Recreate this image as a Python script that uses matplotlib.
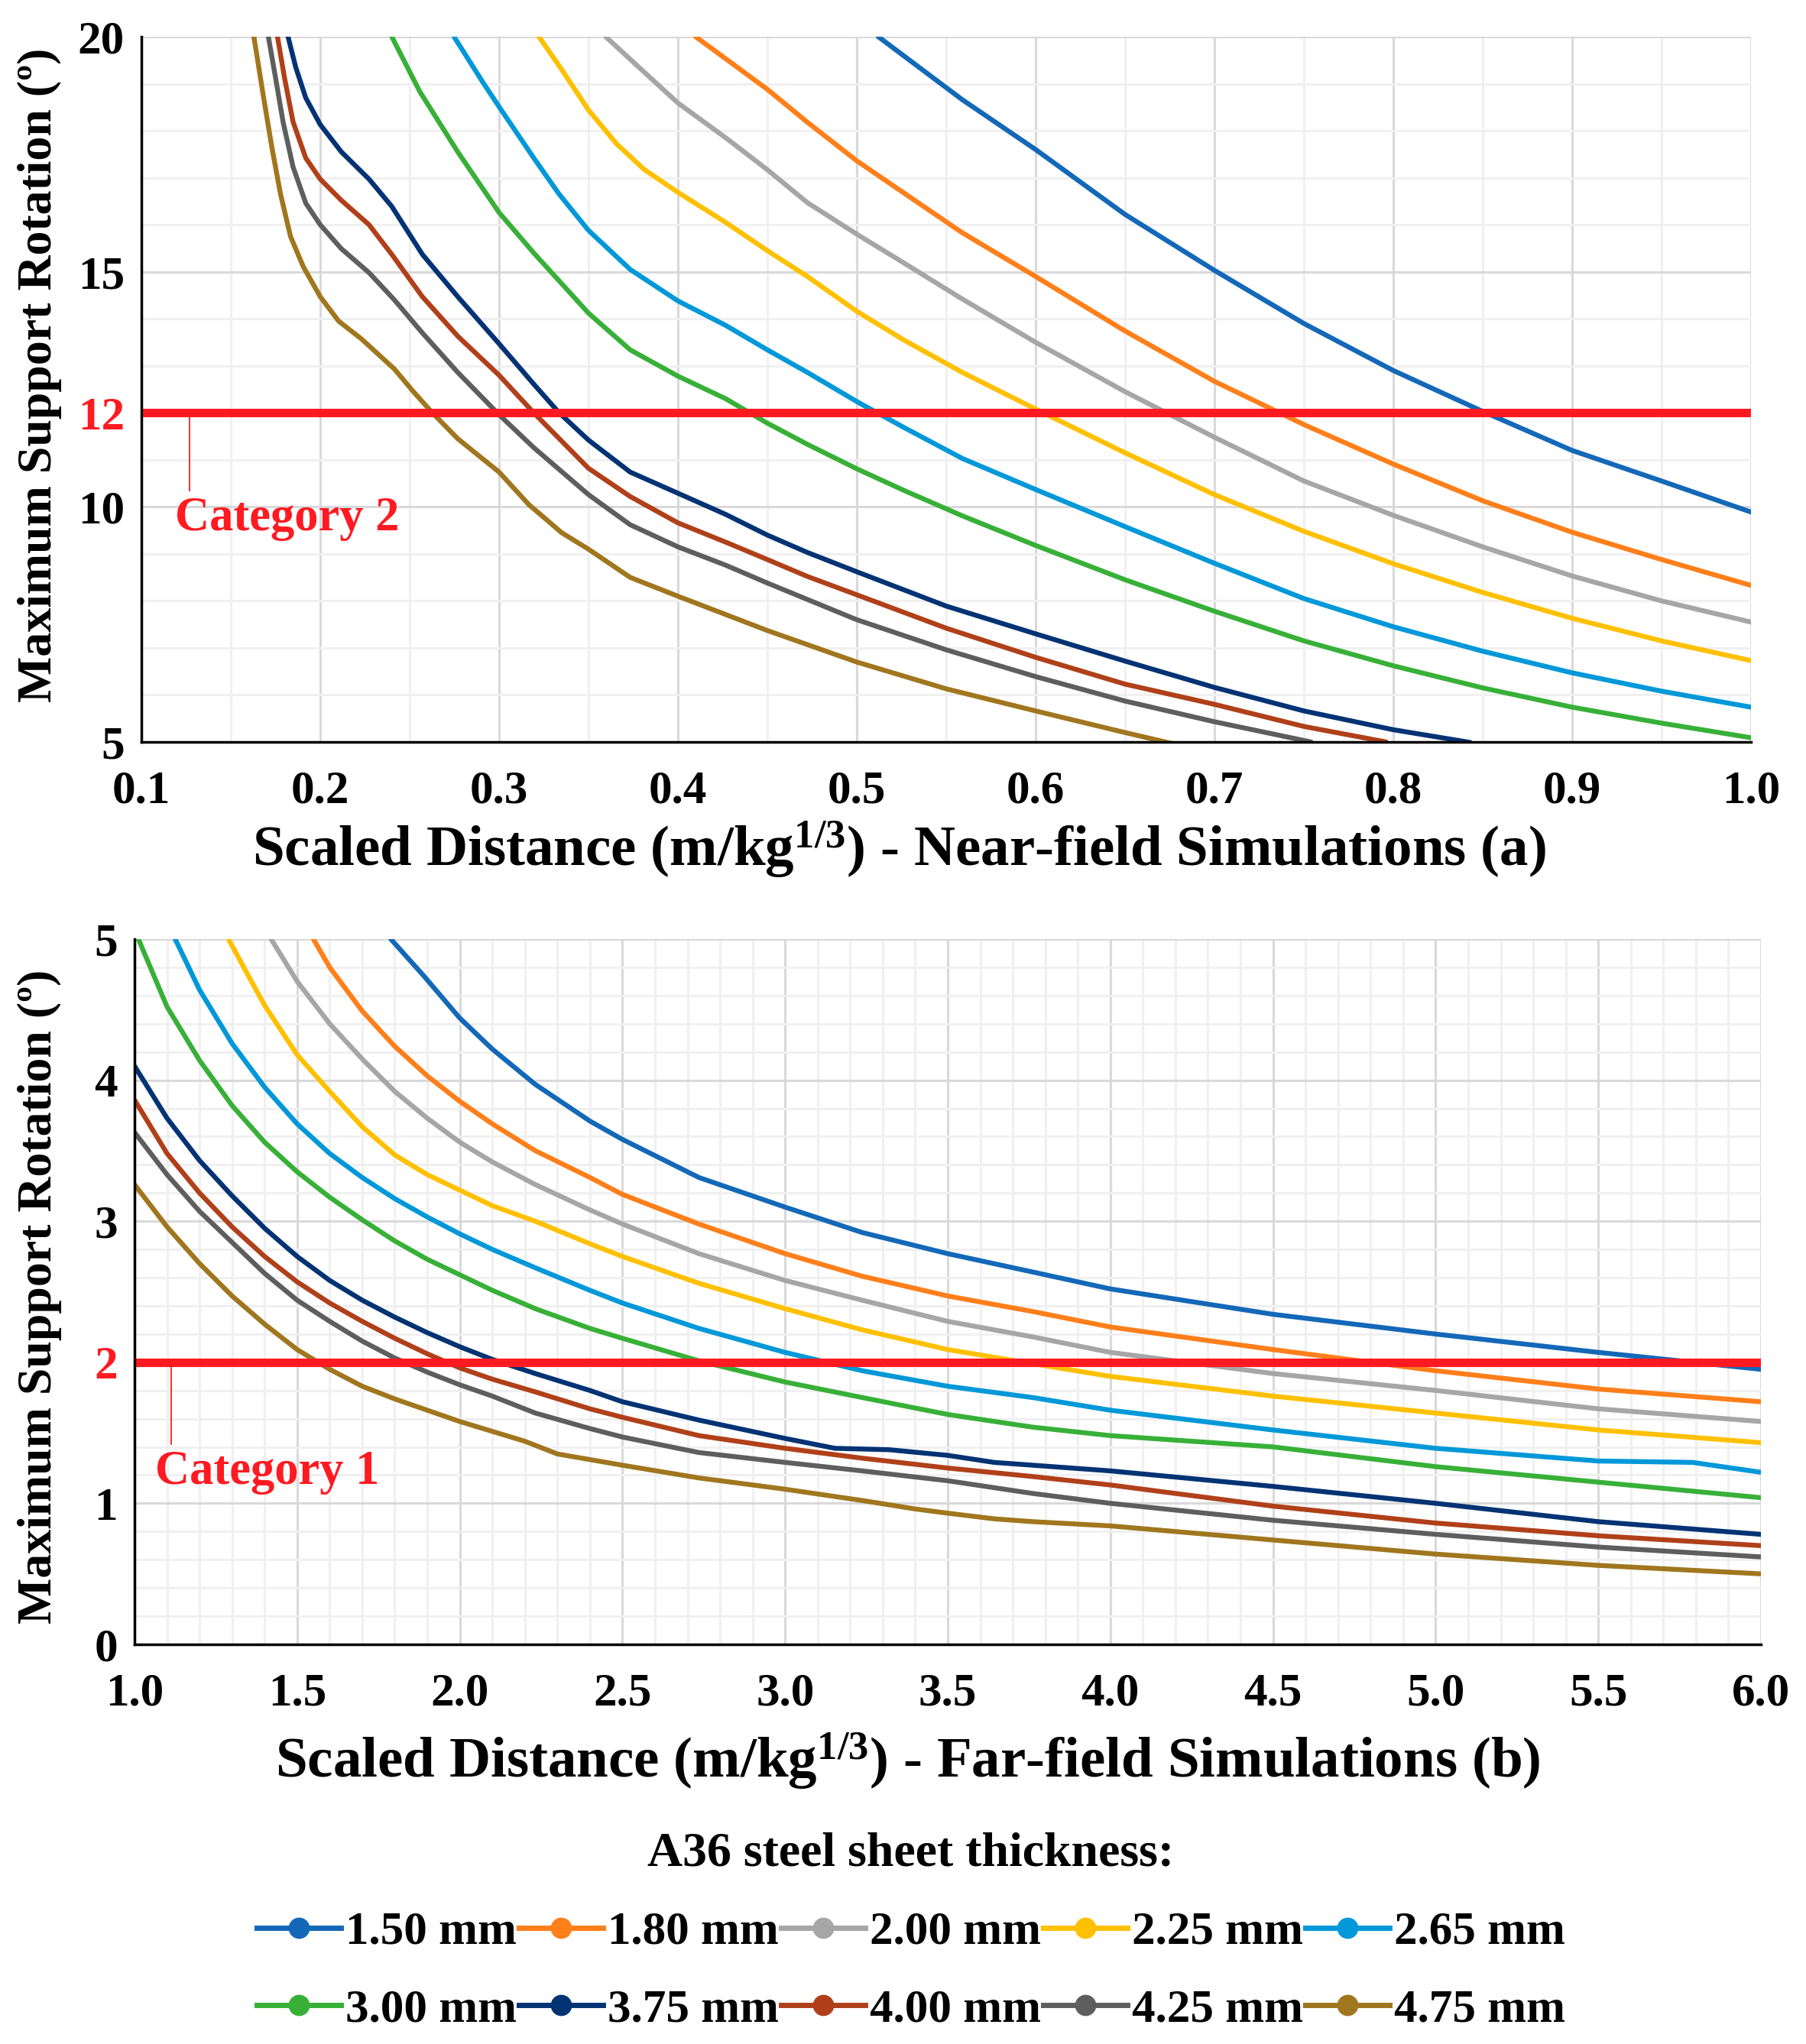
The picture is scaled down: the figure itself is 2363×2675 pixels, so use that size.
# blast response curves: near-field (a) and far-field (b)

import numpy as np
import matplotlib
matplotlib.use('Agg')
from matplotlib import pyplot as plt
from matplotlib.lines import Line2D
from matplotlib.ticker import MultipleLocator, FixedLocator

plt.rcParams['font.family'] = ['Liberation Serif', 'DejaVu Serif']
plt.rcParams['font.weight'] = 'bold'
plt.rcParams['mathtext.fontset'] = 'custom'
plt.rcParams['mathtext.rm'] = 'Liberation Serif:bold'
plt.rcParams['mathtext.it'] = 'Liberation Serif:bold:italic'
plt.rcParams['mathtext.bf'] = 'Liberation Serif:bold'

labels = ['1.50 mm', '1.80 mm', '2.00 mm', '2.25 mm', '2.65 mm',
          '3.00 mm', '3.75 mm', '4.00 mm', '4.25 mm', '4.75 mm']
colors = ['#1468b8', '#ff7f1a', '#a6a6a6', '#ffc000', '#0098d8',
          '#38b038', '#043374', '#b0401a', '#5e5e5e', '#a0761e']

# near-field (a), values
near_x = [
    [0.512, 0.559, 0.60, 0.65, 0.70, 0.75, 0.80, 0.85, 0.90, 0.95, 1.00],
    [0.4099, 0.45, 0.4724, 0.50, 0.5258, 0.559, 0.60, 0.65, 0.70, 0.75, 0.80, 0.85, 0.90, 0.95, 1.0],
    [0.3596, 0.3733, 0.40, 0.4267, 0.45, 0.4724, 0.50, 0.5258, 0.559, 0.60, 0.65, 0.70, 0.75, 0.80, 0.85, 0.90, 0.95, 1.0],
    [0.3223, 0.3352, 0.35, 0.3657, 0.381, 0.40, 0.4267, 0.45, 0.4724, 0.50, 0.5258, 0.559, 0.60, 0.65, 0.70, 0.75, 0.80, 0.85, 0.90, 0.95, 1.0],
    [0.2748, 0.2911, 0.30, 0.3194, 0.3336, 0.35, 0.3733, 0.40, 0.4267, 0.45, 0.4724, 0.50, 0.5258, 0.559, 0.60, 0.65, 0.70, 0.75, 0.80, 0.85, 0.90, 0.95, 1.0],
    [0.24, 0.2557, 0.2769, 0.30, 0.3194, 0.35, 0.3733, 0.40, 0.4267, 0.45, 0.4724, 0.50, 0.5258, 0.559, 0.60, 0.65, 0.70, 0.75, 0.80, 0.85, 0.90, 0.95, 1.0],
    [0.182, 0.1863, 0.1919, 0.20, 0.2118, 0.2273, 0.24, 0.2571, 0.2769, 0.30, 0.3194, 0.3336, 0.35, 0.3733, 0.40, 0.4267, 0.45, 0.4724, 0.50, 0.55, 0.60, 0.65, 0.70, 0.75, 0.80, 0.843],
    [0.1761, 0.1799, 0.1848, 0.1919, 0.20, 0.2118, 0.2273, 0.24, 0.2571, 0.2769, 0.30, 0.3194, 0.35, 0.3733, 0.40, 0.4267, 0.45, 0.4724, 0.50, 0.55, 0.60, 0.65, 0.70, 0.75, 0.796],
    [0.171, 0.1749, 0.1792, 0.1848, 0.1919, 0.20, 0.2118, 0.2273, 0.2415, 0.2571, 0.2769, 0.30, 0.3194, 0.35, 0.3733, 0.40, 0.4267, 0.45, 0.50, 0.55, 0.60, 0.65, 0.70, 0.754],
    [0.1629, 0.1678, 0.1728, 0.1778, 0.1834, 0.1905, 0.20, 0.2103, 0.2231, 0.2415, 0.2514, 0.2627, 0.2769, 0.30, 0.3166, 0.335, 0.35, 0.3733, 0.40, 0.45, 0.50, 0.55, 0.60, 0.65, 0.677],
]
near_y = [
    [20.0, 18.66, 17.6, 16.22, 15.03, 13.9, 12.9, 12.03, 11.2, 10.55, 9.89],
    [20.0, 18.88, 18.18, 17.36, 16.69, 15.83, 14.9, 13.74, 12.67, 11.75, 10.91, 10.13, 9.46, 8.88, 8.33],
    [20.0, 19.52, 18.59, 17.85, 17.17, 16.47, 15.80, 15.20, 14.42, 13.50, 12.45, 11.48, 10.55, 9.82, 9.15, 8.53, 8.0, 7.55],
    [20.0, 19.29, 18.44, 17.72, 17.18, 16.69, 16.05, 15.45, 14.90, 14.16, 13.56, 12.86, 12.08, 11.15, 10.26, 9.48, 8.79, 8.18, 7.63, 7.15, 6.73],
    [20.0, 19.02, 18.51, 17.42, 16.65, 15.88, 15.05, 14.38, 13.86, 13.34, 12.86, 12.24, 11.70, 11.03, 10.37, 9.58, 8.80, 8.05, 7.45, 6.93, 6.47, 6.08, 5.74],
    [20.0, 18.83, 17.55, 16.26, 15.4, 14.12, 13.34, 12.78, 12.30, 11.78, 11.33, 10.81, 10.36, 9.81, 9.18, 8.45, 7.78, 7.15, 6.62, 6.15, 5.74, 5.40, 5.09],
    [20.0, 19.35, 18.70, 18.13, 17.55, 16.97, 16.39, 15.37, 14.47, 13.47, 12.61, 12.0, 11.42, 10.74, 10.29, 9.84, 9.40, 9.03, 8.62, 7.89, 7.30, 6.72, 6.16, 5.66, 5.26, 4.99],
    [20.0, 19.15, 18.19, 17.42, 16.97, 16.52, 16.0, 15.37, 14.47, 13.63, 12.80, 12.0, 10.82, 10.22, 9.66, 9.25, 8.88, 8.52, 8.13, 7.42, 6.80, 6.23, 5.80, 5.33, 5.0],
    [20.0, 19.15, 18.19, 17.23, 16.46, 16.0, 15.49, 14.98, 14.40, 13.70, 12.86, 11.96, 11.26, 10.26, 9.62, 9.15, 8.76, 8.38, 7.60, 6.96, 6.39, 5.87, 5.43, 5.0],
    [20.0, 18.83, 17.68, 16.65, 15.75, 15.11, 14.47, 13.95, 13.57, 12.93, 12.48, 12.0, 11.45, 10.74, 10.05, 9.45, 9.10, 8.50, 8.10, 7.37, 6.70, 6.13, 5.66, 5.20, 4.96],
]

# far-field (b)
far_x = [
    [1.788, 1.889, 2.0, 2.1, 2.232, 2.4, 2.5, 2.735, 3.0, 3.237, 3.5, 3.761, 4.0, 4.5, 5.0, 5.5, 6.0],
    [1.55, 1.6, 1.7, 1.8, 1.9, 2.0, 2.1, 2.232, 2.4, 2.5, 2.735, 3.0, 3.237, 3.5, 3.761, 4.0, 4.5, 5.0, 5.5, 6.0],
    [1.42, 1.5, 1.6, 1.7, 1.8, 1.9, 2.0, 2.1, 2.232, 2.4, 2.5, 2.735, 3.0, 3.237, 3.5, 3.761, 4.0, 4.5, 5.0, 5.5, 6.0],
    [1.289, 1.35, 1.4, 1.5, 1.6, 1.7, 1.8, 1.9, 2.0, 2.1, 2.232, 2.4, 2.5, 2.735, 3.0, 3.237, 3.5, 3.761, 4.0, 4.5, 5.0, 5.5, 6.0],
    [1.125, 1.2, 1.3, 1.4, 1.5, 1.6, 1.7, 1.8, 1.9, 2.0, 2.1, 2.232, 2.4, 2.5, 2.735, 3.0, 3.237, 3.5, 3.761, 4.0, 4.5, 5.0, 5.5, 5.79, 6.0],
    [1.012, 1.1, 1.2, 1.3, 1.4, 1.5, 1.6, 1.7, 1.8, 1.9, 2.0, 2.1, 2.232, 2.4, 2.5, 2.735, 3.0, 3.237, 3.5, 3.761, 4.0, 4.5, 5.0, 5.5, 6.0],
    [1.0, 1.1, 1.2, 1.3, 1.4, 1.5, 1.6, 1.7, 1.8, 1.9, 2.0, 2.1, 2.232, 2.4, 2.5, 2.735, 3.0, 3.153, 3.32, 3.5, 3.643, 4.0, 4.5, 5.0, 5.5, 6.0],
    [1.0, 1.1, 1.2, 1.3, 1.4, 1.5, 1.6, 1.7, 1.8, 1.9, 2.0, 2.1, 2.232, 2.4, 2.5, 2.735, 3.0, 3.237, 3.5, 3.761, 4.0, 4.5, 5.0, 5.5, 6.0],
    [1.0, 1.1, 1.2, 1.3, 1.4, 1.5, 1.6, 1.7, 1.8, 1.9, 2.0, 2.1, 2.232, 2.4, 2.5, 2.735, 3.0, 3.237, 3.5, 3.761, 4.0, 4.5, 5.0, 5.5, 6.0],
    [1.0, 1.1, 1.2, 1.3, 1.4, 1.5, 1.6, 1.7, 1.8, 1.9, 2.0, 2.1, 2.2, 2.3, 2.4, 2.5, 2.735, 3.0, 3.237, 3.4, 3.5, 3.643, 3.761, 4.0, 4.5, 5.0, 5.5, 6.0],
]
far_y = [
    [5.0, 4.74, 4.44, 4.22, 3.97, 3.71, 3.58, 3.31, 3.10, 2.92, 2.77, 2.64, 2.52, 2.34, 2.20, 2.07, 1.95],
    [5.0, 4.80, 4.49, 4.24, 4.03, 3.85, 3.69, 3.50, 3.31, 3.19, 2.98, 2.77, 2.61, 2.47, 2.36, 2.25, 2.09, 1.94, 1.81, 1.72],
    [5.0, 4.70, 4.40, 4.15, 3.92, 3.73, 3.56, 3.42, 3.26, 3.08, 2.98, 2.77, 2.58, 2.44, 2.29, 2.18, 2.07, 1.92, 1.80, 1.67, 1.58],
    [5.0, 4.74, 4.53, 4.18, 3.92, 3.67, 3.47, 3.33, 3.22, 3.11, 3.0, 2.84, 2.75, 2.56, 2.38, 2.23, 2.09, 1.99, 1.90, 1.76, 1.64, 1.52, 1.43],
    [5.0, 4.64, 4.26, 3.95, 3.69, 3.48, 3.31, 3.16, 3.03, 2.91, 2.80, 2.67, 2.51, 2.42, 2.24, 2.07, 1.94, 1.83, 1.75, 1.66, 1.52, 1.39, 1.30, 1.29, 1.22],
    [5.0, 4.52, 4.14, 3.82, 3.56, 3.35, 3.17, 3.01, 2.86, 2.73, 2.62, 2.51, 2.38, 2.24, 2.17, 2.01, 1.86, 1.75, 1.63, 1.54, 1.48, 1.40, 1.26, 1.15, 1.04],
    [4.10, 3.73, 3.43, 3.18, 2.95, 2.75, 2.58, 2.44, 2.32, 2.21, 2.11, 2.02, 1.92, 1.80, 1.72, 1.59, 1.46, 1.39, 1.38, 1.34, 1.29, 1.23, 1.12, 1.00, 0.87, 0.78],
    [3.86, 3.48, 3.20, 2.96, 2.75, 2.57, 2.42, 2.29, 2.17, 2.06, 1.96, 1.88, 1.79, 1.67, 1.61, 1.48, 1.39, 1.32, 1.25, 1.19, 1.13, 0.98, 0.86, 0.77, 0.70],
    [3.63, 3.33, 3.07, 2.85, 2.63, 2.44, 2.29, 2.15, 2.03, 1.93, 1.84, 1.76, 1.64, 1.53, 1.47, 1.36, 1.29, 1.23, 1.16, 1.07, 1.00, 0.88, 0.78, 0.69, 0.62],
    [3.26, 2.96, 2.70, 2.47, 2.27, 2.09, 1.95, 1.83, 1.74, 1.66, 1.58, 1.51, 1.44, 1.35, 1.31, 1.27, 1.18, 1.10, 1.02, 0.96, 0.93, 0.89, 0.87, 0.84, 0.74, 0.64, 0.56, 0.50],
]

near_limit = 12
far_limit = 2
near_yticks = [5, 10, 12, 15, 20]
far_yticks = [0, 1, 2, 3, 4, 5]

W, H = 2363, 2675
fig = plt.figure(figsize=(W/100, H/100), dpi=100)

def px_axes(l, t, r, b):
    return fig.add_axes([l/W, 1-b/H, (r-l)/W, (b-t)/H])

ax1 = px_axes(185, 48, 2291, 971)
ax2 = px_axes(176, 1229, 2304, 2152)

red = '#ff1a22'
tick_fs = 44

def style(ax, xmaj, xmin, ymin, yticks, limit):
    ax.xaxis.set_major_locator(MultipleLocator(xmaj))
    ax.xaxis.set_minor_locator(MultipleLocator(xmin))
    ax.yaxis.set_major_locator(FixedLocator(yticks))
    ax.yaxis.set_minor_locator(MultipleLocator(ymin))
    ax.grid(which='major', color='#d9d9d9', lw=2.2, zorder=0)
    ax.grid(which='minor', color='#f0f0f0', lw=2.2, zorder=0)
    ax.set_axisbelow(True)
    for s in ['top', 'right']:
        ax.spines[s].set_visible(False)
    for s in ['left', 'bottom']:
        ax.spines[s].set_linewidth(2.5)
        ax.spines[s].set_zorder(5)
    ax.tick_params(which='both', length=0, labelsize=tick_fs)
    ax.tick_params(axis='x', pad=26)
    ax.tick_params(axis='y', pad=16)
    for lab in ax.get_yticklabels():
        if float(lab.get_text().replace('\u2212', '-')) == limit:
            lab.set_color(red)

line_kw = dict(lw=4.6, solid_capstyle='round', solid_joinstyle='round', zorder=3)

# top panel
for xs, ys, c in zip(near_x, near_y, colors):
    ax1.plot(xs, ys, color=c, **line_kw)
ax1.set_xlim(0.1, 1.0)
ax1.set_ylim(5, 20)
ax1.axhline(near_limit, color=red, lw=8, zorder=4)
style(ax1, 0.1, 0.05, 1, near_yticks, near_limit)
ax1.set_xticklabels(['%.1f' % v for v in ax1.get_xticks()])
ax1.plot([0.127, 0.127], [near_limit, 10.35], color=red, lw=1.3, zorder=4)
ax1.text(0.119, 9.75, 'Category 2', color=red, fontsize=45, fontweight='bold',
         ha='left', va='center')

# bottom panel
for xs, ys, c in zip(far_x, far_y, colors):
    ax2.plot(xs, ys, color=c, **line_kw)
ax2.set_xlim(1.0, 6.0)
ax2.set_ylim(0, 5)
ax2.axhline(far_limit, color=red, lw=8, zorder=4)
style(ax2, 0.5, 0.1, 0.2, far_yticks, far_limit)
ax2.set_xticklabels(['%.1f' % v for v in ax2.get_xticks()])
ax2.plot([1.113, 1.113], [far_limit, 1.42], color=red, lw=1.3, zorder=4)
ax2.text(1.063, 1.22, 'Category 1', color=red, fontsize=45, fontweight='bold',
         ha='left', va='center')

# axis titles
ylab = 'Maximum Support Rotation (\u00ba)'
fig.text(52/W, 1-491/H, ylab, rotation=90, ha='center', va='center', fontsize=46)
fig.text(52/W, 1-1697/H, ylab, rotation=90, ha='center', va='center', fontsize=46)
fig.text(1176/W, 1-1112/H, r'Scaled Distance (m/kg$^{\mathrm{1/3}}$) - Near-field Simulations (a)',
         ha='center', va='center', fontsize=54)
fig.text(1188/W, 1-2305/H, r'Scaled Distance (m/kg$^{\mathrm{1/3}}$) - Far-field Simulations (b)',
         ha='center', va='center', fontsize=54)

# legend, row-major order
handles = [Line2D([], [], color=c, lw=5, marker='o', markersize=19) for c in colors]
order = [0, 5, 1, 6, 2, 7, 3, 8, 4, 9]
leg = fig.legend([handles[i] for i in order], [labels[i] for i in order],
                 loc='center', bbox_to_anchor=(1192/W, 1-2528/H), ncol=5,
                 frameon=False, fontsize=44, title='A36 steel sheet thickness:',
                 title_fontsize=46, handlelength=1.8, handletextpad=0.1,
                 columnspacing=0.05, labelspacing=0.75)
leg.get_title().set_fontweight('bold')

fig.savefig('out.png', dpi=100)
